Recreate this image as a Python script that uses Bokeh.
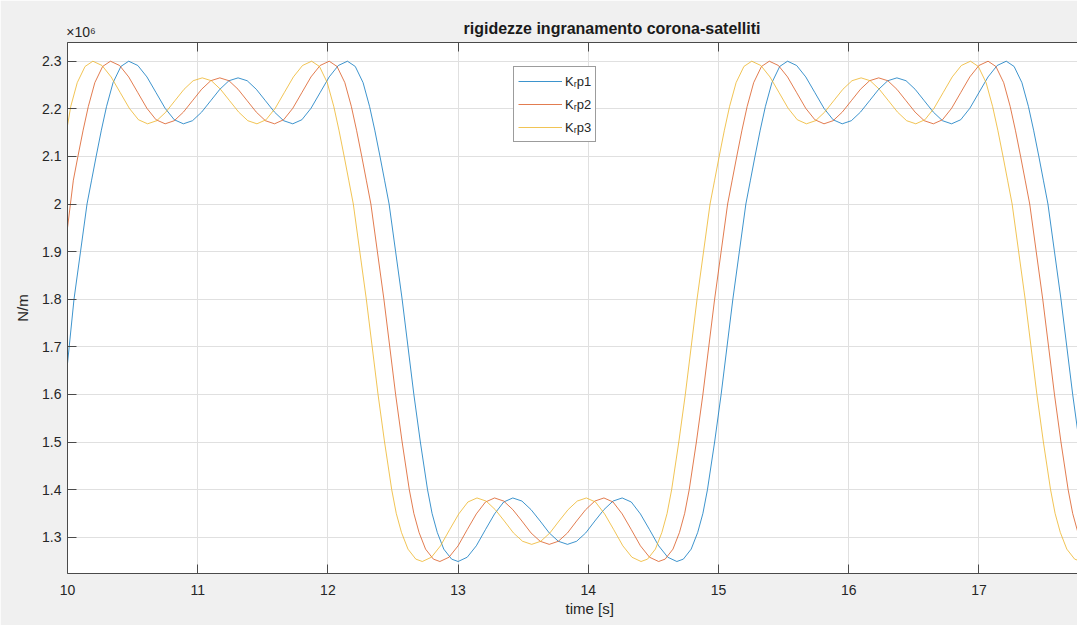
from bokeh.plotting import figure
from bokeh.models import (Range1d, FixedTicker, LinearAxis, Legend, LegendItem, Title)
from bokeh.embed import file_html
from bokeh.resources import INLINE

# ---- data (values in units of 1e6 N/m) ----
time_p1 = [10.00, 10.05, 10.10, 10.15, 10.185, 10.22, 10.26, 10.30, 10.35, 10.41, 10.47,
           10.54, 10.61, 10.68, 10.75, 10.82, 10.89, 10.96, 11.03, 11.10, 11.17, 11.24, 11.31,
           11.38, 11.45, 11.52, 11.59, 11.66, 11.73, 11.80, 11.87, 11.94, 12.01, 12.08, 12.15,
           12.21, 12.27, 12.32, 12.36, 12.40, 12.435, 12.47, 12.52, 12.57, 12.615, 12.66, 12.71,
           12.765, 12.80, 12.84, 12.89, 12.95, 13.00,
           13.07, 13.14, 13.21, 13.28, 13.35, 13.42, 13.49, 13.56, 13.63, 13.70, 13.77, 13.84,
           13.91, 13.98, 14.05, 14.12, 14.19, 14.26, 14.33, 14.40, 14.47, 14.54, 14.61, 14.68,
           14.73, 14.79, 14.84, 14.88, 14.915, 14.97, 15.02, 15.065, 15.11, 15.16, 15.21, 15.245,
           15.28, 15.32, 15.36, 15.41, 15.47, 15.53,
           15.60, 15.67, 15.74, 15.81, 15.88, 15.95, 16.02, 16.09, 16.16, 16.23, 16.30, 16.37,
           16.44, 16.51, 16.58, 16.65, 16.72, 16.79, 16.86, 16.93, 17.00, 17.07, 17.14, 17.21,
           17.27, 17.33, 17.38, 17.42, 17.46, 17.495, 17.53, 17.58, 17.63, 17.675, 17.72, 17.77,
           17.825, 17.86]
kr_p1 = [1.665, 1.80, 1.90, 2.00, 2.05, 2.10, 2.155, 2.205, 2.255, 2.289, 2.300,
         2.291, 2.267, 2.234, 2.201, 2.177, 2.1685, 2.175, 2.193, 2.217, 2.241, 2.259, 2.265,
         2.259, 2.241, 2.217, 2.193, 2.175, 2.1685, 2.177, 2.201, 2.234, 2.267, 2.291, 2.300,
         2.289, 2.255, 2.205, 2.155, 2.10, 2.05, 2.00, 1.90, 1.80, 1.70, 1.60, 1.50,
         1.40, 1.35, 1.31, 1.275, 1.254, 1.249,
         1.258, 1.282, 1.316, 1.349, 1.374, 1.3825, 1.376, 1.358, 1.334, 1.309, 1.2915, 1.285,
         1.2915, 1.309, 1.334, 1.358, 1.376, 1.3825, 1.374, 1.349, 1.316, 1.282, 1.258, 1.249,
         1.254, 1.275, 1.31, 1.35, 1.40, 1.50, 1.60, 1.70, 1.80, 1.90, 2.00, 2.05,
         2.10, 2.155, 2.205, 2.255, 2.289, 2.300,
         2.291, 2.267, 2.234, 2.201, 2.177, 2.1685, 2.175, 2.193, 2.217, 2.241, 2.259, 2.265,
         2.259, 2.241, 2.217, 2.193, 2.175, 2.1685, 2.177, 2.201, 2.234, 2.267, 2.291, 2.300,
         2.289, 2.255, 2.205, 2.155, 2.10, 2.05, 2.00, 1.90, 1.80, 1.70, 1.60, 1.50,
         1.40, 1.35]

time_p2 = [10.00, 10.045, 10.08, 10.12, 10.16, 10.21, 10.27, 10.33,
           10.40, 10.47, 10.54, 10.61, 10.68, 10.75, 10.82, 10.89, 10.96, 11.03, 11.10, 11.17,
           11.24, 11.31, 11.38, 11.45, 11.52, 11.59, 11.66, 11.73, 11.80, 11.87, 11.94, 12.01,
           12.07, 12.13, 12.18, 12.22, 12.26, 12.295, 12.33, 12.38, 12.43, 12.475, 12.52, 12.57,
           12.625, 12.66, 12.70, 12.75, 12.81, 12.86,
           12.93, 13.00, 13.07, 13.14, 13.21, 13.28, 13.35, 13.42, 13.49, 13.56, 13.63, 13.70,
           13.77, 13.84, 13.91, 13.98, 14.05, 14.12, 14.19, 14.26, 14.33, 14.40, 14.47, 14.54,
           14.59, 14.65, 14.70, 14.74, 14.775, 14.83, 14.88, 14.925, 14.97, 15.02, 15.07, 15.105,
           15.14, 15.18, 15.22, 15.27, 15.33, 15.39,
           15.46, 15.53, 15.60, 15.67, 15.74, 15.81, 15.88, 15.95, 16.02, 16.09, 16.16, 16.23,
           16.30, 16.37, 16.44, 16.51, 16.58, 16.65, 16.72, 16.79, 16.86, 16.93, 17.00, 17.07,
           17.13, 17.19, 17.24, 17.28, 17.32, 17.355, 17.39, 17.44, 17.49, 17.535, 17.58, 17.63,
           17.685, 17.72, 17.76]
kr_p2 = [1.95, 2.05, 2.10, 2.155, 2.205, 2.255, 2.289, 2.300,
         2.291, 2.267, 2.234, 2.201, 2.177, 2.1685, 2.175, 2.193, 2.217, 2.241, 2.259, 2.265,
         2.259, 2.241, 2.217, 2.193, 2.175, 2.1685, 2.177, 2.201, 2.234, 2.267, 2.291, 2.300,
         2.289, 2.255, 2.205, 2.155, 2.10, 2.05, 2.00, 1.90, 1.80, 1.70, 1.60, 1.50,
         1.40, 1.35, 1.31, 1.275, 1.254, 1.249,
         1.258, 1.282, 1.316, 1.349, 1.374, 1.3825, 1.376, 1.358, 1.334, 1.309, 1.2915, 1.285,
         1.2915, 1.309, 1.334, 1.358, 1.376, 1.3825, 1.374, 1.349, 1.316, 1.282, 1.258, 1.249,
         1.254, 1.275, 1.31, 1.35, 1.40, 1.50, 1.60, 1.70, 1.80, 1.90, 2.00, 2.05,
         2.10, 2.155, 2.205, 2.255, 2.289, 2.300,
         2.291, 2.267, 2.234, 2.201, 2.177, 2.1685, 2.175, 2.193, 2.217, 2.241, 2.259, 2.265,
         2.259, 2.241, 2.217, 2.193, 2.175, 2.1685, 2.177, 2.201, 2.234, 2.267, 2.291, 2.300,
         2.289, 2.255, 2.205, 2.155, 2.10, 2.05, 2.00, 1.90, 1.80, 1.70, 1.60, 1.50,
         1.40, 1.35, 1.31]

time_p3 = [10.00, 10.025, 10.075, 10.135, 10.195,
           10.265, 10.335, 10.405, 10.475, 10.545, 10.615, 10.685, 10.755, 10.825, 10.895, 10.965,
           11.035, 11.105, 11.175, 11.245, 11.315, 11.385, 11.455, 11.525, 11.595, 11.665, 11.735,
           11.805, 11.875,
           11.935, 11.995, 12.045, 12.085, 12.125, 12.16, 12.195, 12.245, 12.295, 12.34, 12.385,
           12.435, 12.49, 12.525, 12.565, 12.615, 12.675, 12.725,
           12.795, 12.865, 12.935, 13.005, 13.075, 13.145, 13.215, 13.285, 13.355, 13.425, 13.495,
           13.565, 13.635, 13.705, 13.775, 13.845, 13.915, 13.985, 14.055, 14.125, 14.195, 14.265,
           14.335, 14.405,
           14.455, 14.515, 14.565, 14.605, 14.64, 14.695, 14.745, 14.79, 14.835, 14.885, 14.935,
           14.97, 15.005, 15.045, 15.085, 15.135, 15.195, 15.255,
           15.325, 15.395, 15.465, 15.535, 15.605, 15.675, 15.745, 15.815, 15.885, 15.955, 16.025,
           16.095, 16.165, 16.235, 16.305, 16.375, 16.445, 16.515, 16.585, 16.655, 16.725, 16.795,
           16.865, 16.935,
           16.995, 17.055, 17.105, 17.145, 17.185, 17.22, 17.255, 17.305, 17.355, 17.40, 17.445,
           17.495, 17.55, 17.585, 17.625, 17.675, 17.735, 17.785]
kr_p3 = [2.165, 2.205, 2.255, 2.289, 2.300,
         2.291, 2.267, 2.234, 2.201, 2.177, 2.1685, 2.175, 2.193, 2.217, 2.241, 2.259,
         2.265, 2.259, 2.241, 2.217, 2.193, 2.175, 2.1685, 2.177, 2.201, 2.234, 2.267,
         2.291, 2.300,
         2.289, 2.255, 2.205, 2.155, 2.10, 2.05, 2.00, 1.90, 1.80, 1.70, 1.60,
         1.50, 1.40, 1.35, 1.31, 1.275, 1.254, 1.249,
         1.258, 1.282, 1.316, 1.349, 1.374, 1.3825, 1.376, 1.358, 1.334, 1.309, 1.2915,
         1.285, 1.2915, 1.309, 1.334, 1.358, 1.376, 1.3825, 1.374, 1.349, 1.316, 1.282,
         1.258, 1.249,
         1.254, 1.275, 1.31, 1.35, 1.40, 1.50, 1.60, 1.70, 1.80, 1.90, 2.00,
         2.05, 2.10, 2.155, 2.205, 2.255, 2.289, 2.300,
         2.291, 2.267, 2.234, 2.201, 2.177, 2.1685, 2.175, 2.193, 2.217, 2.241, 2.259,
         2.265, 2.259, 2.241, 2.217, 2.193, 2.175, 2.1685, 2.177, 2.201, 2.234, 2.267,
         2.291, 2.300,
         2.289, 2.255, 2.205, 2.155, 2.10, 2.05, 2.00, 1.90, 1.80, 1.70, 1.60,
         1.50, 1.40, 1.35, 1.31, 1.275, 1.254, 1.249]

series_names = ["K\u1d63p1", "K\u1d63p2", "K\u1d63p3"]
series_colors = ["#0072BD", "#D95319", "#EDB120"]

x_ticks = [10, 11, 12, 13, 14, 15, 16, 17]
y_ticks = [1.3, 1.4, 1.5, 1.6, 1.7, 1.8, 1.9, 2.0, 2.1, 2.2, 2.3]
y_tick_labels = ["1.3", "1.4", "1.5", "1.6", "1.7", "1.8", "1.9", "2", "2.1", "2.2", "2.3"]
exponent_label = "\u00d710\u2076"

title_text = "rigidezze ingranamento corona-satelliti"
x_label = "time [s]"
y_label = "N/m"

FONT = "Liberation Sans"
AX = "#262626"

p = figure(width=1077, height=625, output_backend="svg", toolbar_location=None,
           x_range=Range1d(10.0, 17.757), y_range=Range1d(1.2238, 2.3393),
           x_axis_location=None, y_axis_location=None,
           min_border_left=67, min_border_right=0, min_border_top=42, min_border_bottom=52)
p.background_fill_color = "white"
p.border_fill_color = "#f0f0f0"
p.outline_line_color = None

def style_axis(ax):
    ax.axis_line_color = "#4a4a4a"
    ax.axis_line_width = 1
    ax.major_tick_line_color = "#4a4a4a"
    ax.major_tick_in = 9
    ax.major_tick_out = 0
    ax.minor_tick_line_color = None
    ax.major_label_text_font = FONT
    ax.major_label_text_font_size = "14px"
    ax.major_label_text_color = AX
    ax.axis_label_text_font = FONT
    ax.axis_label_text_font_size = "15px"
    ax.axis_label_text_font_style = "normal"
    ax.axis_label_text_color = AX

# bottom axis
xb = LinearAxis(ticker=FixedTicker(ticks=x_ticks))
style_axis(xb)
xb.major_label_standoff = 11
p.add_layout(xb, "below")

# top axis: ticks only, plus the MATLAB exponent note at the left corner
# (non-breaking spaces push the centred label so that it starts at the corner)
xt = LinearAxis(ticker=FixedTicker(ticks=x_ticks))
style_axis(xt)
xt.major_label_overrides = {t: ("\u00a0" * 7 + exponent_label if t == x_ticks[0] else "")
                            for t in x_ticks}
xt.major_label_standoff = 3
xt.major_label_text_font_size = "14px"
p.add_layout(xt, "above")

# left axis
yl = LinearAxis(ticker=FixedTicker(ticks=y_ticks), axis_label=y_label)
style_axis(yl)
yl.major_label_standoff = 6
yl.axis_label_standoff = 8
yl.major_label_overrides = {t: s for t, s in zip(y_ticks, y_tick_labels)}
p.add_layout(yl, "left")

p.xgrid.ticker = FixedTicker(ticks=x_ticks)
p.ygrid.ticker = FixedTicker(ticks=y_ticks)
p.xgrid.grid_line_color = "#e0e0e0"
p.ygrid.grid_line_color = "#e0e0e0"

renderers = []
for tx, ty, c in [(time_p1, kr_p1, series_colors[0]),
                  (time_p2, kr_p2, series_colors[1]),
                  (time_p3, kr_p3, series_colors[2])]:
    r = p.line(tx, ty, line_color=c, line_width=0.9, line_alpha=0.85)
    renderers.append(r)

legend = Legend(items=[LegendItem(label=n, renderers=[r]) for n, r in zip(series_names, renderers)],
                location=(446, 431), orientation="vertical")
legend.margin = 0
legend.padding = 4
legend.spacing = 3
legend.glyph_width = 44
legend.glyph_height = 20
legend.label_height = 20
legend.label_standoff = 3
legend.label_text_font = FONT
legend.label_text_font_size = "13px"
legend.label_text_color = AX
legend.border_line_color = "#3a3a3a"
legend.border_line_width = 1
legend.background_fill_color = "white"
legend.background_fill_alpha = 1.0
p.add_layout(legend, "center")

# title (MATLAB centres it on the full axes, which extend past the right edge)
p.title = Title(text=title_text, align="left", offset=396, standoff=-33,
                text_font=FONT, text_font_size="16px", text_font_style="bold",
                text_color="#1a1a1a")

# x label below the tick labels
p.add_layout(Title(text=x_label, align="left", offset=498, standoff=0,
                   text_font=FONT, text_font_size="15px", text_font_style="normal",
                   text_color=AX), "below")

open("out.html", "w").write(file_html(p, INLINE))
